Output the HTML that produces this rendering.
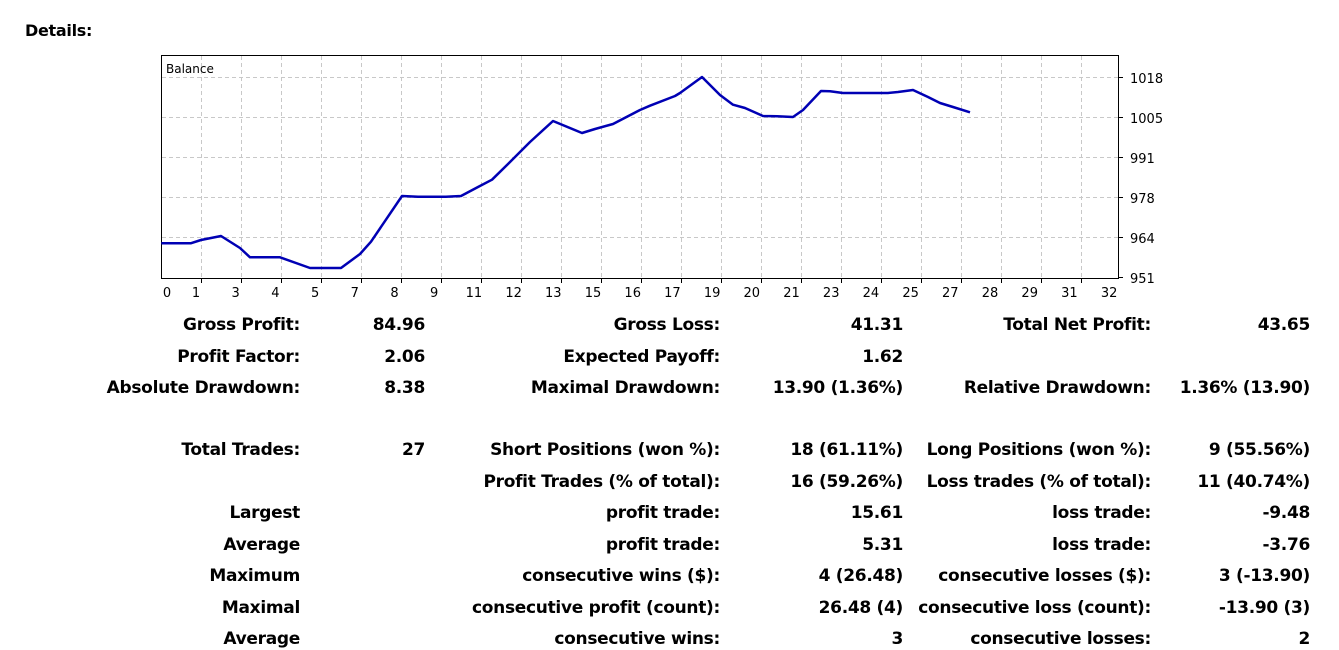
<!DOCTYPE html>
<html><head><meta charset="utf-8"><style>
body{margin:0;width:1339px;height:650px;background:#fff;position:relative;overflow:hidden;font-family:Tahoma,"DejaVu Sans","Liberation Sans",sans-serif;}
.t{position:absolute;font-weight:bold;font-size:17px;color:#000;white-space:nowrap;line-height:20px;font-family:"DejaVu Sans","Liberation Sans",sans-serif;letter-spacing:-0.3px;}
</style></head><body>
<div class="t" style="left:25px;top:21px;font-size:16px;">Details:</div>
<svg width="1339" height="310" style="position:absolute;left:0;top:0" font-family="DejaVu Sans, Liberation Sans, sans-serif">
<rect x="161.5" y="55.5" width="957" height="223" fill="#fff" stroke="#000" stroke-width="1"/>
<g stroke="#c8c8c8" stroke-dasharray="4,3" stroke-width="1">
<line x1="162" x2="1118" y1="77.5" y2="77.5"/><line x1="162" x2="1118" y1="117.5" y2="117.5"/><line x1="162" x2="1118" y1="157.5" y2="157.5"/><line x1="162" x2="1118" y1="197.5" y2="197.5"/><line x1="162" x2="1118" y1="237.5" y2="237.5"/>
</g>
<g id="vl" stroke="#c8c8c8" stroke-dasharray="4,3"></g>
<g id="xt" font-size="13" fill="#000" text-anchor="middle"></g>
<g font-size="13" fill="#000">
<text x="1130" y="83">1018</text><text x="1130" y="123">1005</text><text x="1130" y="163">991</text><text x="1130" y="203">978</text><text x="1130" y="243">964</text><text x="1130" y="283">951</text>
<text x="166" y="73" font-size="12">Balance</text>
</g>
<g stroke="#000"><line x1="1118" x2="1123" y1="77.5" y2="77.5"/><line x1="1118" x2="1123" y1="117.5" y2="117.5"/><line x1="1118" x2="1123" y1="157.5" y2="157.5"/><line x1="1118" x2="1123" y1="197.5" y2="197.5"/><line x1="1118" x2="1123" y1="237.5" y2="237.5"/><line x1="1118" x2="1123" y1="277.5" y2="277.5"/></g>
<polyline fill="none" stroke="#0000b4" stroke-width="2.5" stroke-linejoin="round" points="161.3,243.3 190.7,243.3 201,240 221,236 240,248 250,257.3 280,257.3 310,268 341,268 360,254 371,241.7 402,196 418,196.7 446,196.7 461,196 478,187 492,179.7 508,164 530,142 553,121 582,133 595,129 613,124 640,110 650,105.7 675,96 680,93 702,77 720,95 733,104.7 745,108 763,116 777,116.3 793,117 803,110 821,91 830,91.3 843,93 888,93 898,92 913,90 928,97 940,103 953,107 970,112.3"/>
</svg>
<script>
var ns="http://www.w3.org/2000/svg",vl=document.getElementById('vl'),xt=document.getElementById('xt');
for(var k=0;k<23;k++){var x=201.5+40*k;var l=document.createElementNS(ns,'line');l.setAttribute('x1',x);l.setAttribute('x2',x);l.setAttribute('y1',56);l.setAttribute('y2',278);vl.appendChild(l);
var t=document.createElementNS(ns,'line');t.setAttribute('x1',x);t.setAttribute('x2',x);t.setAttribute('y1',278);t.setAttribute('y2',283);t.setAttribute('stroke','#000');t.setAttribute('stroke-dasharray','none');vl.appendChild(t);}
var labs=[0,1,3,4,5,7,8,9,11,12,13,15,16,17,19,20,21,23,24,25,27,28,29,31,32];
labs.forEach(function(v,i){var tx=document.createElementNS(ns,'text');tx.setAttribute('x',i==0?167:196+39.7*(i-1));tx.setAttribute('y',297);tx.textContent=v;xt.appendChild(tx);});
</script>
<div id="tbl"></div>
<script>
var rows=[
[324,"Gross Profit:","84.96","Gross Loss:","41.31","Total Net Profit:","43.65"],
[356,"Profit Factor:","2.06","Expected Payoff:","1.62","",""],
[387,"Absolute Drawdown:","8.38","Maximal Drawdown:","13.90 (1.36%)","Relative Drawdown:","1.36% (13.90)"],
[449,"Total Trades:","27","Short Positions (won %):","18 (61.11%)","Long Positions (won %):","9 (55.56%)"],
[481,"","","Profit Trades (% of total):","16 (59.26%)","Loss trades (% of total):","11 (40.74%)"],
[512,"Largest","","profit trade:","15.61","loss trade:","-9.48"],
[544,"Average","","profit trade:","5.31","loss trade:","-3.76"],
[575,"Maximum","","consecutive wins ($):","4 (26.48)","consecutive losses ($):","3 (-13.90)"],
[607,"Maximal","","consecutive profit (count):","26.48 (4)","consecutive loss (count):","-13.90 (3)"],
[638,"Average","","consecutive wins:","3","consecutive losses:","2"]];
var rights=[300,425,720,903,1151,1310],h='';
rows.forEach(function(r){for(var c=0;c<6;c++){if(r[c+1])h+='<div class="t" style="top:'+(r[0]-9)+'px;right:'+(1339-rights[c])+'px">'+r[c+1]+'</div>';}});
document.getElementById('tbl').innerHTML=h;
</script>
</body></html>
